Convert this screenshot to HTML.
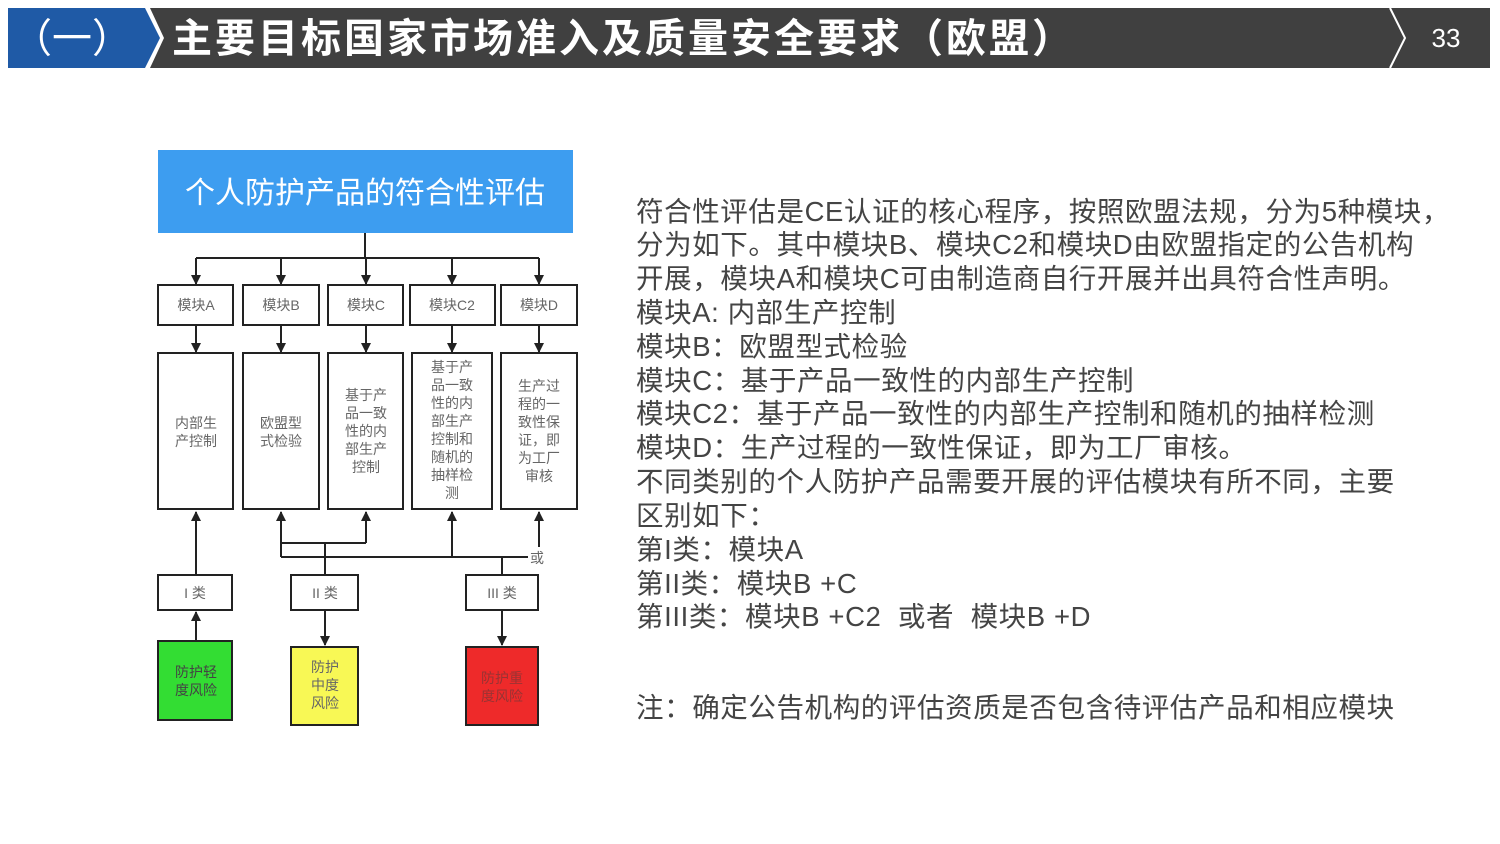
<!DOCTYPE html>
<html><head><meta charset="utf-8"><style>
body{margin:0;width:1500px;height:844px;background:#fff;position:relative;overflow:hidden;font-family:"Liberation Sans","Noto Sans CJK SC",sans-serif}
.t{position:absolute;left:636px;font-size:27.5px;color:#444;white-space:nowrap;line-height:34px;letter-spacing:0.6px}
</style></head><body>
<svg width="1500" height="844" style="position:absolute;left:0;top:0" font-family="Liberation Sans, Noto Sans CJK SC, sans-serif">
<defs><marker id="a" markerWidth="10" markerHeight="10" refX="9" refY="5" orient="auto" markerUnits="userSpaceOnUse"><path d="M0,0 L10,5 L0,10 z" fill="#222"/></marker></defs>
<polygon points="8,8 145,8 160,38 145,68 8,68" fill="#1f5aa6"/>
<polygon points="150,8 1490,8 1490,68 150,68 164,38" fill="#404040"/>
<polyline points="1390,8 1405,38 1390,68" fill="none" stroke="#fff" stroke-width="2"/>
<text x="72" y="52" font-size="40" fill="#fff" text-anchor="middle">（一）</text>
<text x="172" y="52" font-size="40" fill="#fff" font-weight="bold" letter-spacing="3">主要目标国家市场准入及质量安全要求（欧盟）</text>
<text x="1446" y="47" font-size="26" fill="#fff" text-anchor="middle">33</text>
<rect x="158" y="150" width="415" height="83" fill="#3d9df0"/>
<text x="365" y="203" font-size="30" fill="#fff" text-anchor="middle">个人防护产品的符合性评估</text>
<g stroke="#222" stroke-width="2" fill="none">
<line x1="365" y1="233" x2="365" y2="258"/>
<line x1="196" y1="258" x2="539" y2="258"/>
<line x1="196" y1="258" x2="196" y2="284" marker-end="url(#a)"/>
<line x1="281" y1="258" x2="281" y2="284" marker-end="url(#a)"/>
<line x1="366" y1="258" x2="366" y2="284" marker-end="url(#a)"/>
<line x1="452" y1="258" x2="452" y2="284" marker-end="url(#a)"/>
<line x1="539" y1="258" x2="539" y2="284" marker-end="url(#a)"/>
<line x1="196" y1="326" x2="196" y2="352" marker-end="url(#a)"/>
<line x1="281" y1="326" x2="281" y2="352" marker-end="url(#a)"/>
<line x1="366" y1="326" x2="366" y2="352" marker-end="url(#a)"/>
<line x1="452" y1="326" x2="452" y2="352" marker-end="url(#a)"/>
<line x1="539" y1="326" x2="539" y2="352" marker-end="url(#a)"/>
<line x1="196" y1="575" x2="196" y2="512" marker-end="url(#a)"/>
<line x1="281" y1="557" x2="281" y2="512" marker-end="url(#a)"/>
<line x1="366" y1="543" x2="366" y2="512" marker-end="url(#a)"/>
<line x1="281" y1="543" x2="366" y2="543"/>
<line x1="325" y1="543" x2="325" y2="575"/>
<line x1="281" y1="557" x2="528" y2="557"/>
<line x1="452" y1="557" x2="452" y2="512" marker-end="url(#a)"/>
<line x1="539" y1="547" x2="539" y2="512" marker-end="url(#a)"/>
<line x1="502" y1="557" x2="502" y2="575"/>
<line x1="196" y1="641" x2="196" y2="612" marker-end="url(#a)"/>
<line x1="325" y1="610" x2="325" y2="645" marker-end="url(#a)"/>
<line x1="502" y1="610" x2="502" y2="645" marker-end="url(#a)"/>
<rect x="158" y="285" width="75" height="40"/><rect x="243" y="285" width="76" height="40"/><rect x="328" y="285" width="75" height="40"/><rect x="410" y="285" width="85" height="40"/><rect x="501" y="285" width="76" height="40"/>
<rect x="158" y="353" width="75" height="156"/><rect x="243" y="353" width="76" height="156"/><rect x="328" y="353" width="75" height="156"/><rect x="412" y="353" width="80" height="156"/><rect x="501" y="353" width="76" height="156"/>
<rect x="158" y="575" width="74" height="35"/><rect x="291" y="575" width="67" height="35"/><rect x="466" y="575" width="72" height="35"/>
<rect x="158" y="641" width="74" height="79" fill="#33dd33"/><rect x="291" y="647" width="67" height="78" fill="#f8f855"/><rect x="466" y="647" width="72" height="78" fill="#ee2a2a"/>
</g>
<g font-size="14" fill="#666" text-anchor="middle">
<text x="196" y="310">模块A</text><text x="281" y="310">模块B</text><text x="366" y="310">模块C</text><text x="452" y="310">模块C2</text><text x="539" y="310">模块D</text>
<text x="196" y="428">内部生</text><text x="196" y="446">产控制</text>
<text x="281" y="428">欧盟型</text><text x="281" y="446">式检验</text>
<text x="366" y="400">基于产</text><text x="366" y="418">品一致</text><text x="366" y="436">性的内</text><text x="366" y="454">部生产</text><text x="366" y="472">控制</text>
<text x="452" y="372">基于产</text><text x="452" y="390">品一致</text><text x="452" y="408">性的内</text><text x="452" y="426">部生产</text><text x="452" y="444">控制和</text><text x="452" y="462">随机的</text><text x="452" y="480">抽样检</text><text x="452" y="498">测</text>
<text x="539" y="391">生产过</text><text x="539" y="409">程的一</text><text x="539" y="427">致性保</text><text x="539" y="445">证，即</text><text x="539" y="463">为工厂</text><text x="539" y="481">审核</text>
<text x="537" y="563">或</text>
<text x="195" y="598">I 类</text><text x="325" y="598">II 类</text><text x="502" y="598">III 类</text>
<text x="196" y="677" fill="#444">防护轻</text><text x="196" y="695" fill="#444">度风险</text>
<text x="325" y="672" fill="#666">防护</text><text x="325" y="690" fill="#666">中度</text><text x="325" y="708" fill="#666">风险</text>
<text x="502" y="683" fill="#933">防护重</text><text x="502" y="701" fill="#933">度风险</text>
</g>
</svg>
<div class="t" style="top:195px">符合性评估是CE认证的核心程序，按照欧盟法规，分为5种模块，</div>
<div class="t" style="top:228px">分为如下。其中模块B、模块C2和模块D由欧盟指定的公告机构</div>
<div class="t" style="top:262px">开展，模块A和模块C可由制造商自行开展并出具符合性声明。</div>
<div class="t" style="top:296px">模块A: 内部生产控制</div>
<div class="t" style="top:330px">模块B：欧盟型式检验</div>
<div class="t" style="top:364px">模块C：基于产品一致性的内部生产控制</div>
<div class="t" style="top:397px">模块C2：基于产品一致性的内部生产控制和随机的抽样检测</div>
<div class="t" style="top:431px">模块D：生产过程的一致性保证，即为工厂审核。</div>
<div class="t" style="top:465px">不同类别的个人防护产品需要开展的评估模块有所不同，主要</div>
<div class="t" style="top:499px">区别如下：</div>
<div class="t" style="top:533px">第I类：模块A</div>
<div class="t" style="top:567px">第II类：模块B +C</div>
<div class="t" style="top:600px">第III类：模块B +C2&nbsp; 或者&nbsp; 模块B +D</div>
<div class="t" style="top:691px">注：确定公告机构的评估资质是否包含待评估产品和相应模块</div>
</body></html>
